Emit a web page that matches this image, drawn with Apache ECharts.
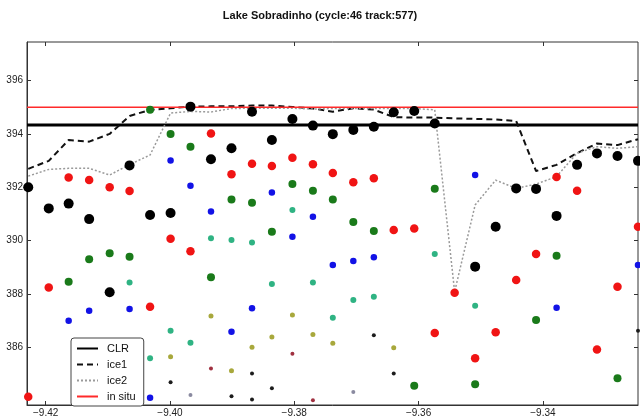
<!DOCTYPE html>
<html>
<head>
<meta charset="utf-8">
<script src="https://cdn.jsdelivr.net/npm/echarts@6/dist/echarts.min.js"></script>
<style>
html,body{margin:0;padding:0;background:#fff;}
#chart{width:640px;height:419px;}
</style>
</head>
<body>
<div id="chart"></div>
<script>
// ---- data ----
const titleText = 'Lake Sobradinho (cycle:46 track:577)';
const xTicks = [-9.42, -9.40, -9.38, -9.36, -9.34];
const yTicks = [386, 388, 390, 392, 394, 396];
const xRange = [-9.4230, -9.3247];
const yRange = [383.85, 397.44];

// along-track longitude of each measurement column
const lon = [-9.4228, -9.4195, -9.4163, -9.4130, -9.4097, -9.4065, -9.4032, -9.3999,
  -9.3967, -9.3934, -9.3901, -9.3868, -9.3836, -9.3803, -9.3770, -9.3738, -9.3705,
  -9.3672, -9.3640, -9.3607, -9.3574, -9.3542, -9.3509, -9.3476, -9.3443, -9.3411,
  -9.3378, -9.3345, -9.3313, -9.3280, -9.3247];

const clrLevel = 394.33;
const inSituLevel = 395.00;

const ice1 = [392.69, 392.99, 393.77, 393.71, 394.00, 394.67, 394.90, 394.96, 395.02,
  395.03, 395.03, 395.06, 395.06, 395.01, 394.95, 394.83, 394.96, 394.91, 394.63, 394.61,
  394.61, 394.58, 394.56, 394.54, 394.48, 392.61, 392.84, 393.28, 393.64, 393.58, 393.80];

const ice2 = [392.42, 392.67, 392.71, 392.71, 392.46, 392.85, 393.21, 394.78, 394.84,
  394.82, 394.95, 394.96, 394.96, 394.96, 394.93, 394.95, 394.95, 394.95, 394.95, 394.95,
  394.90, 388.09, 391.34, 392.27, 391.96, 392.12, 392.40, 393.28, 393.52, 393.46, 393.52];

// retracked heights: [column index, height]
const rank1Black = [[0,392.00],[1,391.21],[2,391.39],[3,390.81],[4,388.07],[5,392.82],[6,390.96],
  [7,391.04],[8,395.02],[9,393.05],[10,393.46],[11,394.83],[12,393.77],[13,394.56],[14,394.31],
  [15,393.99],[16,394.15],[17,394.27],[18,394.81],[19,394.86],[20,394.39],[22,389.03],[23,390.52],
  [24,391.96],[25,391.94],[26,390.93],[27,392.84],[28,393.27],[29,393.17],[30,392.99]];
const rank2Red = [[0,384.16],[1,388.25],[2,392.37],[3,392.27],[4,392.00],[5,391.86],[6,387.53],
  [7,390.07],[8,389.61],[9,394.01],[10,392.49],[11,392.88],[12,392.80],[13,393.11],[14,392.86],
  [15,392.54],[16,392.19],[17,392.34],[18,390.40],[19,390.46],[20,386.55],[21,388.05],[22,385.60],
  [23,386.57],[24,388.53],[25,389.50],[26,392.39],[27,391.87],[28,385.93],[29,388.28],[30,390.52]];
const rank3Green = [[2,388.46],[3,389.31],[4,389.53],[5,389.40],[6,394.90],[7,394.00],[8,393.52],
  [9,388.63],[10,391.54],[11,391.42],[12,390.34],[13,392.12],[14,391.87],[15,391.54],[16,390.70],
  [17,390.36],[19,384.57],[20,391.95],[22,384.63],[25,387.03],[26,389.44],[29,384.85]];
const rank4Blue = [[2,387.00],[3,387.38],[5,387.44],[6,384.12],[7,393.00],[8,392.06],[9,391.09],
  [10,386.59],[11,387.47],[12,391.81],[13,390.15],[14,390.90],[15,389.09],[16,389.24],[17,389.38],
  [22,392.46],[26,387.49],[30,389.09]];
const rank5Teal = [[5,388.44],[6,385.60],[7,386.63],[8,386.18],[9,390.09],[10,390.03],[11,389.93],
  [12,388.38],[13,391.15],[14,388.44],[15,387.12],[16,387.78],[17,387.90],[20,389.50],[22,387.57]];
const rank6Olive = [[7,385.66],[9,387.18],[10,385.13],[11,386.01],[12,386.40],[13,387.22],
  [14,386.49],[15,386.16],[18,385.99]];
const rank7DarkRed = [[9,385.22],[13,385.77],[14,384.03]];
const rank8Dark = [[7,384.70],[10,384.18],[11,385.03],[11,384.06],[12,384.48],[17,386.46],
  [18,385.03],[30,386.63]];
const rank9Gray = [[8,384.22],[16,384.34]];

// ---- chart ----
const FONT = 'Liberation Sans, Arial, sans-serif';
const toXY = pts => pts.map(p => [lon[p[0]], p[1]]);
const lineXY = arr => arr.map((v, i) => [lon[i], v]);
const minusFmt = v => String(v.toFixed(2)).replace('-', '\u2212');

function dots(data, color, size) {
  return {
    type: 'scatter', data: toXY(data), symbol: 'circle', symbolSize: size,
    itemStyle: { color: color, opacity: 1 }, z: 4, silent: true
  };
}

const chart = echarts.init(document.getElementById('chart'), null, { renderer: 'canvas' });
chart.setOption({
  animation: false,
  backgroundColor: '#ffffff',
  title: {
    text: titleText, left: 'center', top: 5,
    textStyle: { fontFamily: FONT, fontSize: 11, fontWeight: 'bold', color: '#111' }
  },
  grid: {
    left: 27, right: 2, top: 42, bottom: 14,
    show: true, borderColor: '#333', borderWidth: 1, backgroundColor: '#fff',
    outerBoundsMode: 'none'
  },
  legend: {
    data: ['CLR', 'ice1', 'ice2', 'in situ'],
    orient: 'vertical', left: 71, top: 338,
    padding: [5, 8, 4, 5], itemGap: 5, itemWidth: 21, itemHeight: 12,
    backgroundColor: '#fff', borderColor: '#444', borderWidth: 1, borderRadius: 3,
    itemStyle: { opacity: 0, borderWidth: 0 },
    textStyle: { fontFamily: FONT, fontSize: 11, color: '#111', padding: [0, 0, 0, 4] },
    z: 10
  },
  xAxis: [{
    type: 'value', min: xRange[0], max: xRange[1],
    axisLine: { show: true, lineStyle: { color: '#333' } },
    axisTick: { show: true, inside: true, length: 4, customValues: xTicks, lineStyle: { color: '#333' } },
    axisLabel: { customValues: xTicks, formatter: minusFmt, fontFamily: FONT, fontSize: 10, color: '#222', margin: 3 },
    splitLine: { show: false }
  }, {
    type: 'value', position: 'top', min: xRange[0], max: xRange[1],
    axisLine: { show: false },
    axisTick: { show: true, inside: true, length: 4, customValues: xTicks, lineStyle: { color: '#333' } },
    axisLabel: { show: false }, splitLine: { show: false }
  }],
  yAxis: [{
    type: 'value', min: yRange[0], max: yRange[1],
    axisLine: { show: true, lineStyle: { color: '#333' } },
    axisTick: { show: true, inside: true, length: 4, customValues: yTicks, lineStyle: { color: '#333' } },
    axisLabel: { customValues: yTicks, fontFamily: FONT, fontSize: 10, color: '#222', margin: 4 },
    splitLine: { show: false }
  }, {
    type: 'value', position: 'right', min: yRange[0], max: yRange[1],
    axisLine: { show: false },
    axisTick: { show: true, inside: true, length: 4, customValues: yTicks, lineStyle: { color: '#333' } },
    axisLabel: { show: false }, splitLine: { show: false }
  }],
  series: [
    { name: 'CLR', type: 'line', symbol: 'none', data: [[xRange[0], clrLevel], [xRange[1], clrLevel]],
      lineStyle: { color: '#000', width: 3 }, itemStyle: { color: '#000' }, z: 3, silent: true },
    { name: 'ice1', type: 'line', symbol: 'none', data: lineXY(ice1),
      lineStyle: { color: '#111', width: 2, type: [6, 4] }, itemStyle: { color: '#111' }, z: 3, silent: true },
    { name: 'ice2', type: 'line', symbol: 'none', data: lineXY(ice2),
      lineStyle: { color: '#9a9a9a', width: 1.5, type: [2, 2] }, itemStyle: { color: '#9a9a9a' }, z: 3, silent: true },
    { name: 'in situ', type: 'line', symbol: 'none', data: [[xRange[0], inSituLevel], [xRange[1], inSituLevel]],
      lineStyle: { color: '#ff2a2a', width: 1.5 }, itemStyle: { color: '#ff2a2a' }, z: 3, silent: true },
    dots(rank9Gray, '#8a8aa0', 4),
    dots(rank8Dark, '#1c1c1c', 4),
    dots(rank7DarkRed, '#a03040', 4),
    dots(rank6Olive, '#a8a83c', 5),
    dots(rank5Teal, '#2fb383', 6),
    dots(rank4Blue, '#1212e6', 6.5),
    dots(rank3Green, '#1a7a1a', 8),
    dots(rank2Red, '#f01414', 8.5),
    dots(rank1Black, '#000000', 10)
  ]
});
</script>
</body>
</html>
